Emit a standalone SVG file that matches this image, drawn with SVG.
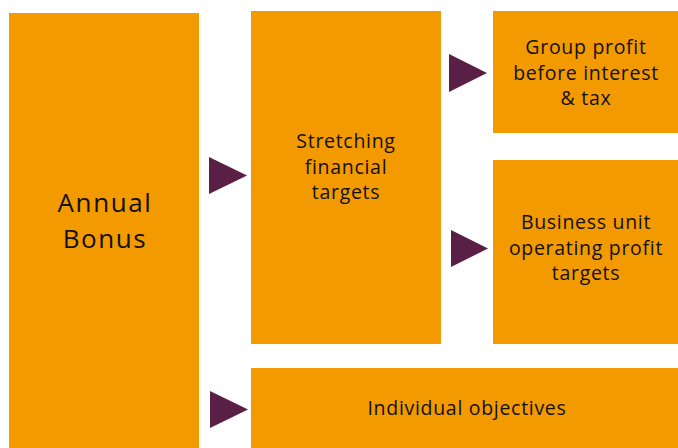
<svg xmlns="http://www.w3.org/2000/svg" width="678" height="448" viewBox="0 0 678 448">
<style>
.box{fill:#F39A00}
.arr{fill:#5A1F45}
text{font-family:"Open Sans","Noto Sans","Liberation Sans",sans-serif;fill:#111;text-anchor:middle;font-weight:500}
.big{font-size:26px;letter-spacing:1.6px}
.med{font-size:19.5px;letter-spacing:0.7px}
</style>
<rect width="678" height="448" fill="#fff"/>
<g id="annual-bonus">
<rect class="box" x="9" y="13" width="190" height="435"/>
<text class="big" x="105" y="211.5">Annual</text>
<text class="big" x="105" y="247.5">Bonus</text>
</g>
<g id="stretching-financial-targets">
<rect class="box" x="251" y="11" width="190" height="333"/>
<text class="med" x="346" y="148">Stretching</text>
<text class="med" x="346" y="174">financial</text>
<text class="med" x="346" y="199">targets</text>
</g>
<g id="group-profit">
<rect class="box" x="493" y="11" width="185" height="122"/>
<text class="med" x="586" y="54">Group profit</text>
<text class="med" x="586" y="80">before interest</text>
<text class="med" x="586" y="105">&amp; tax</text>
</g>
<g id="business-unit">
<rect class="box" x="493" y="160" width="185" height="184"/>
<text class="med" x="586" y="229">Business unit</text>
<text class="med" x="586" y="255">operating profit</text>
<text class="med" x="586" y="280">targets</text>
</g>
<g id="individual-objectives">
<rect class="box" x="251" y="368" width="427" height="80"/>
<text class="med" x="467" y="415">Individual objectives</text>
</g>
<g id="connectors">
<polygon class="arr" points="209,157 247,175.5 209,194"/>
<polygon class="arr" points="449,54 487,73 449,92"/>
<polygon class="arr" points="451,230 488,248.5 451,267"/>
<polygon class="arr" points="210,391 248,409.5 210,428"/>
</g>
</svg>
